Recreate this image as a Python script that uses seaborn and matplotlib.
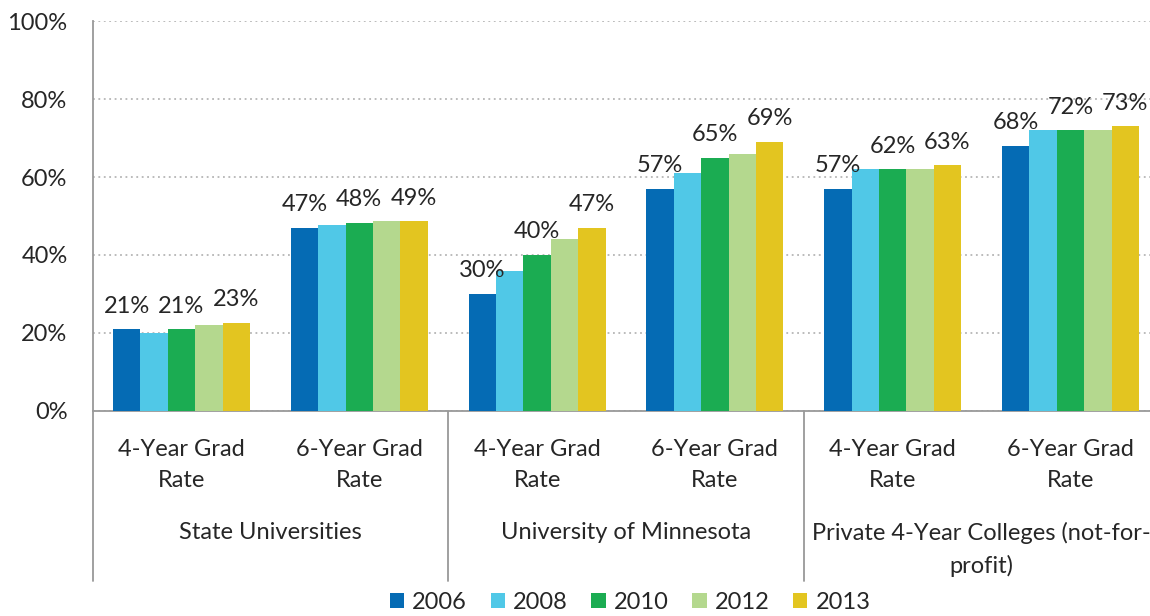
import pandas as pd
import numpy as np
import matplotlib
matplotlib.use("Agg")
import matplotlib.pyplot as plt
import matplotlib.transforms as mtransforms
from matplotlib.patches import Patch
import seaborn as sns

# data
years = ['2006', '2008', '2010', '2012', '2013']
colors = ['#056BB4', '#50C8E7', '#1BAC52', '#B4D88E', '#E3C520']
sectors = ['State Universities', 'University of Minnesota',
           'Private 4-Year Colleges (not-for-\nprofit)']
measures = ['4-Year Grad\nRate', '6-Year Grad\nRate']
rate_2006 = [21, 47, 30, 57, 57, 68]
rate_2008 = [20, 47.8, 36, 61, 62, 72]
rate_2010 = [21, 48.3, 40, 65, 62, 72]
rate_2012 = [22, 48.8, 44, 66, 62, 72]
rate_2013 = [22.6, 48.6, 47, 69, 63, 73]
labeled_years = ['2006', '2010', '2013']

series = [rate_2006, rate_2008, rate_2010, rate_2012, rate_2013]
cats = [f'{s}|{m}' for s in sectors for m in measures]
rows = []
for y, vals in zip(years, series):
    for c, v in zip(cats, vals):
        rows.append({'cat': c, 'year': y, 'rate': v})
df = pd.DataFrame(rows)

sns.set_style('white')
plt.rcParams['font.family'] = ['Lato', 'DejaVu Sans']
fs = 17

fig = plt.figure(figsize=(11.5, 6.16), dpi=100)
ax = fig.add_axes([0.0805, 0.3328, 0.9277, 0.6331])

sns.barplot(data=df, x='cat', y='rate', hue='year', order=cats, hue_order=years,
            palette=colors, width=0.77, gap=0, saturation=1, legend=False,
            ax=ax, zorder=3, edgecolor='none')

ax.set_ylim(0, 100)
ax.set_xlim(-0.5, 5.5)
ax.set_yticks(range(0, 101, 20))
ax.set_yticklabels([f'{t}%' for t in range(0, 101, 20)], fontsize=fs)
ax.set_xticks(range(6))
ax.set_xticklabels([])
ax.set_xlabel('')
ax.set_ylabel('')
ax.tick_params(axis='both', direction='in', length=6, color='#999999', width=1.2)
ax.tick_params(axis='y', pad=18)
ax.yaxis.grid(True, linestyle=(0, (1, 2)), color='#b5b5b5', lw=1.3, zorder=0)
for s in ['top', 'right']:
    ax.spines[s].set_visible(False)
for s in ['left', 'bottom']:
    ax.spines[s].set_color('#999999')
    ax.spines[s].set_linewidth(1.3)

# value labels on selected years
for y, cont in zip(years, ax.containers):
    vals = [b.get_height() for b in cont]
    labels = [f'{v:.0f}%' if y in labeled_years else '' for v in vals]
    ax.bar_label(cont, labels=labels, padding=9, fontsize=fs)

# multi-level category axis
trans = mtransforms.blended_transform_factory(ax.transData, ax.transAxes)
for i in range(6):
    ax.text(i, -0.071, measures[i % 2], transform=trans, ha='center', va='top',
            fontsize=fs, linespacing=1.6)
for j, s in enumerate(sectors):
    ax.text(2 * j + 0.5, -0.285, s, transform=trans, ha='center', va='top',
            fontsize=fs, linespacing=1.6)
for xsep in [-0.5, 1.5, 3.5]:
    ax.plot([xsep, xsep], [0, -0.435], transform=trans, color='#999999',
            lw=1.3, clip_on=False)

handles = [Patch(facecolor=c, edgecolor='none', label=y) for y, c in zip(years, colors)]
fig.legend(handles=handles, loc='center', bbox_to_anchor=(0.548, 0.022), ncol=5,
           frameon=False, fontsize=fs, handlelength=0.6, handleheight=0.6,
           handletextpad=0.35, columnspacing=1.0, borderpad=0)

fig.savefig('out.png', dpi=100)
